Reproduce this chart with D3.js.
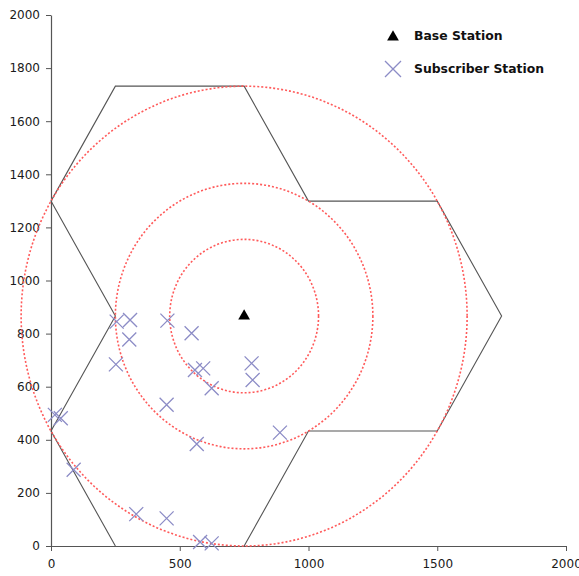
<!DOCTYPE html>
<html>
<head>
<meta charset="utf-8">
<script src="https://cdn.jsdelivr.net/npm/d3@7"></script>
<style>
  html, body { margin: 0; padding: 0; background: #fff; }
  svg { display: block; }
</style>
</head>
<body>
<svg id="chart" width="579" height="576"></svg>
<script>
// Axis ticks
const xTicks = [0, 500, 1000, 1500, 2000];
const yTicks = [0, 200, 400, 600, 800, 1000, 1200, 1400, 1600, 1800, 2000];

// Base station location
const baseStation = [750, 866];

// Coverage ring radii around the base station
const ringRadii = [289, 500, 866];

// Cell boundary outline (x, y pairs along one polyline)
const cellOutlineX = [250, 0, 250, 0, 250, 750, 1000, 1500, 1750, 1500, 1000, 750];
const cellOutlineY = [0, 433, 866, 1299, 1732, 1732, 1299, 1299, 866, 433, 433, 0];

// Subscriber stations
const subX = [255, 307, 304, 252, 452, 546, 559, 591, 624, 779, 783, 449, 566, 889, 15, 38, 88, 331, 449, 579, 624];
const subY = [845, 851, 778, 684, 849, 801, 663, 669, 594, 688, 625, 532, 384, 427, 494, 481, 287, 120, 104, 15, 10];

// Legend entries
const legendLabels = ["Base Station", "Subscriber Station"];

const svg = d3.select("#chart");
const x = d3.scaleLinear().domain([0, 2000]).range([51, 566]);
const y = d3.scaleLinear().domain([0, 2000]).range([546, 15]);

const axisColor = "#555";
const subColor = "#8c8cc6";
const ringColor = "#ff5a5a";
const fmt = d3.format("d");

// Axes
const xAxis = svg.append("g")
  .attr("transform", `translate(0,${y(0)})`)
  .call(d3.axisBottom(x).tickValues(xTicks).tickFormat(fmt).tickSize(5).tickSizeOuter(0).tickPadding(8));
const yAxis = svg.append("g")
  .attr("transform", `translate(${x(0)},0)`)
  .call(d3.axisLeft(y).tickValues(yTicks).tickFormat(fmt).tickSize(5).tickSizeOuter(0).tickPadding(6));
[xAxis, yAxis].forEach(g => {
  g.select(".domain").attr("stroke", axisColor).attr("stroke-width", 1.2);
  g.selectAll(".tick line").attr("stroke", axisColor);
  g.selectAll(".tick text")
    .attr("font-family", "DejaVu Sans, sans-serif")
    .attr("font-size", 12)
    .attr("fill", "#1a1a1a");
});

// Cell boundary
const outline = d3.line()
  .x(i => x(cellOutlineX[i]))
  .y(i => y(cellOutlineY[i]));
svg.append("path")
  .attr("d", outline(d3.range(cellOutlineX.length)))
  .attr("fill", "none")
  .attr("stroke", "#555")
  .attr("stroke-width", 1.1);

// Coverage rings (data-space circles)
svg.append("g").selectAll("ellipse")
  .data(ringRadii)
  .join("ellipse")
  .attr("cx", x(baseStation[0]))
  .attr("cy", y(baseStation[1]))
  .attr("rx", r => x(r) - x(0))
  .attr("ry", r => y(0) - y(r))
  .attr("fill", "none")
  .attr("stroke", ringColor)
  .attr("stroke-width", 1.6)
  .attr("stroke-dasharray", "2,2");

// Subscriber markers
function cross(g, cx, cy, h) {
  g.append("path")
    .attr("d", `M${cx - h},${cy - h}L${cx + h},${cy + h}M${cx - h},${cy + h}L${cx + h},${cy - h}`)
    .attr("stroke", subColor)
    .attr("stroke-width", 1.3)
    .attr("fill", "none");
}
const subs = svg.append("g");
subX.forEach((sx, i) => cross(subs, x(sx), y(subY[i]), 7));

// Base station marker
const tri = d3.symbol().type(d3.symbolTriangle).size(60);
svg.append("path")
  .attr("d", tri())
  .attr("transform", `translate(${x(baseStation[0])},${y(baseStation[1])})`)
  .attr("fill", "#000");

// Legend
const legend = svg.append("g");
legend.append("path")
  .attr("d", tri())
  .attr("transform", "translate(393,37)")
  .attr("fill", "#000");
cross(legend, 393, 69, 8);
legendLabels.forEach((t, i) => {
  legend.append("text")
    .attr("x", 414)
    .attr("y", 40 + i * 33)
    .attr("font-family", "DejaVu Sans, sans-serif")
    .attr("font-weight", "bold")
    .attr("font-size", 12.4)
    .attr("fill", "#111")
    .text(t);
});
</script>
</body>
</html>
